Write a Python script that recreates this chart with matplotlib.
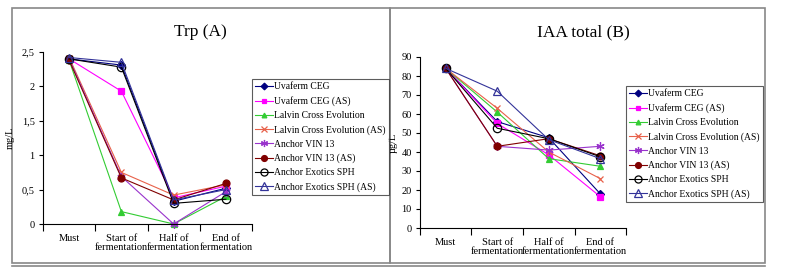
import numpy as np
import matplotlib.pyplot as plt
from matplotlib.patches import Rectangle
from matplotlib.lines import Line2D

plt.rcParams['font.family'] = ['Liberation Serif', 'DejaVu Serif']

stages = ["Must", "Start of\nfermentation", "Half of\nfermentation", "End of\nfermentation"]
series_names = [
    "Uvaferm CEG", "Uvaferm CEG (AS)", "Lalvin Cross Evolution",
    "Lalvin Cross Evolution (AS)", "Anchor VIN 13", "Anchor VIN 13 (AS)",
    "Anchor Exotics SPH", "Anchor Exotics SPH (AS)",
]

# Trp (A), mg/L
trp_uvaferm = [2.40, 2.31, 0.33, 0.52]
trp_uvaferm_as = [2.40, 1.93, 0.38, 0.55]
trp_lalvin = [2.38, 0.18, 0.00, 0.40]
trp_lalvin_as = [2.42, 0.75, 0.42, 0.57]
trp_vin13 = [2.40, 0.69, 0.00, 0.47]
trp_vin13_as = [2.38, 0.67, 0.35, 0.59]
trp_exotics = [2.40, 2.28, 0.30, 0.36]
trp_exotics_as = [2.42, 2.35, 0.35, 0.50]

# IAA total (B), ug/L
iaa_uvaferm = [84, 56, 47.5, 18]
iaa_uvaferm_as = [84, 55, 38.5, 16.5]
iaa_lalvin = [84, 61, 36.5, 32.5]
iaa_lalvin_as = [84, 63, 40, 26]
iaa_vin13 = [84, 43, 41, 43]
iaa_vin13_as = [84, 43, 47, 38]
iaa_exotics = [84, 52.5, 47, 37.5]
iaa_exotics_as = [84, 72, 46.5, 36.5]

trp_data = [trp_uvaferm, trp_uvaferm_as, trp_lalvin, trp_lalvin_as,
            trp_vin13, trp_vin13_as, trp_exotics, trp_exotics_as]
iaa_data = [iaa_uvaferm, iaa_uvaferm_as, iaa_lalvin, iaa_lalvin_as,
            iaa_vin13, iaa_vin13_as, iaa_exotics, iaa_exotics_as]

# (color, marker, markersize, filled)
styles = [
    ("#000080", "D", 4, True),
    ("#ff00ff", "s", 4, True),
    ("#33cc33", "^", 4, True),
    ("#e8614a", "x", 5, True),
    ("#9933cc", (6, 2, 0), 6, True),
    ("#800000", "o", 5, True),
    ("#000000", "o", 6, False),
    ("#333399", "^", 6, False),
]

fig = plt.figure(figsize=(7.9, 2.71), dpi=100)
W, H = 790, 271


def px_box(x0, y0, x1, y1):
    # pixel coords (top-left origin) -> figure fraction rect
    return [x0 / W, 1 - y1 / H, (x1 - x0) / W, (y1 - y0) / H]


# panel frames (table cells)
for x0, x1 in [(12, 390), (390, 765)]:
    r = px_box(x0, 8, x1, 263)
    fig.add_artist(Rectangle((r[0], r[1]), r[2], r[3], transform=fig.transFigure,
                             fill=False, edgecolor="#888888", lw=1.2, zorder=-1))
fig.add_artist(Line2D([12 / W, 765 / W], [1 - 266 / H] * 2, transform=fig.transFigure,
                      color="#888888", lw=1.2))


def draw(rect, data, title, ylabel, ylim, yticks, yticklabels, legend_px, title_x, label_x):
    ax = fig.add_axes(px_box(*rect))
    x = np.arange(len(stages))
    handles = []
    for name, vals, (c, m, ms, filled) in zip(series_names, data, styles):
        h, = ax.plot(x, vals, color=c, lw=0.8, marker=m, markersize=ms,
                     markerfacecolor=c if filled else "none", markeredgecolor=c,
                     markeredgewidth=0.9, clip_on=False, label=name)
        handles.append(h)
    ax.set_xlim(-0.5, 3.5)
    ax.set_ylim(*ylim)
    ax.set_yticks(yticks)
    ax.set_yticklabels(yticklabels, fontsize=7.5)
    ax.set_xticks(np.arange(-0.5, 4, 1))
    ax.set_xticklabels([])
    ax.set_xticks(x, minor=True)
    ax.set_xticklabels(stages, minor=True, fontsize=7.5, linespacing=1.1)
    ax.tick_params(axis="x", which="minor", length=0, pad=7)
    ax.tick_params(axis="x", which="major", direction="out", length=5, width=0.8)
    ax.tick_params(axis="y", direction="out", length=3, width=0.8, pad=3)
    for s in ["top", "right"]:
        ax.spines[s].set_visible(False)
    ax.spines["left"].set_linewidth(0.8)
    ax.spines["bottom"].set_linewidth(0.8)
    ax.set_ylabel(ylabel, fontsize=7.5, color="black")
    ax.yaxis.set_label_coords((label_x - rect[0]) / (rect[2] - rect[0]), 0.5)
    fig.text(title_x / W, 1 - 32 / H, title, ha="center", va="center", fontsize=12.5)
    lx0, ly0, lx1, ly1 = legend_px
    leg = fig.legend(handles=handles, loc="upper left",
                     bbox_to_anchor=(lx0 / W, 1 - ly0 / H), bbox_transform=fig.transFigure,
                     fontsize=6.9, frameon=True, fancybox=False, handlelength=1.8,
                     handletextpad=0.15, labelspacing=0.52, borderpad=0.35,
                     borderaxespad=0, markerscale=0.85)
    leg.get_frame().set_edgecolor("#333333")
    leg.get_frame().set_linewidth(0.8)
    return ax


draw((43, 52, 252, 224), trp_data, "Trp (A)", "mg/L", (0, 2.5),
     [0, 0.5, 1, 1.5, 2, 2.5], ["0", "0,5", "1", "1,5", "2", "2,5"],
     (252, 79, 386, 194), 200, 15)
draw((420, 57, 626, 228), iaa_data, "IAA total (B)", "\u00b5g/L", (0, 90),
     np.arange(0, 91, 10), [str(v) for v in range(0, 91, 10)],
     (626, 86, 762, 202), 583, 398)

fig.savefig("out.png", dpi=100)
